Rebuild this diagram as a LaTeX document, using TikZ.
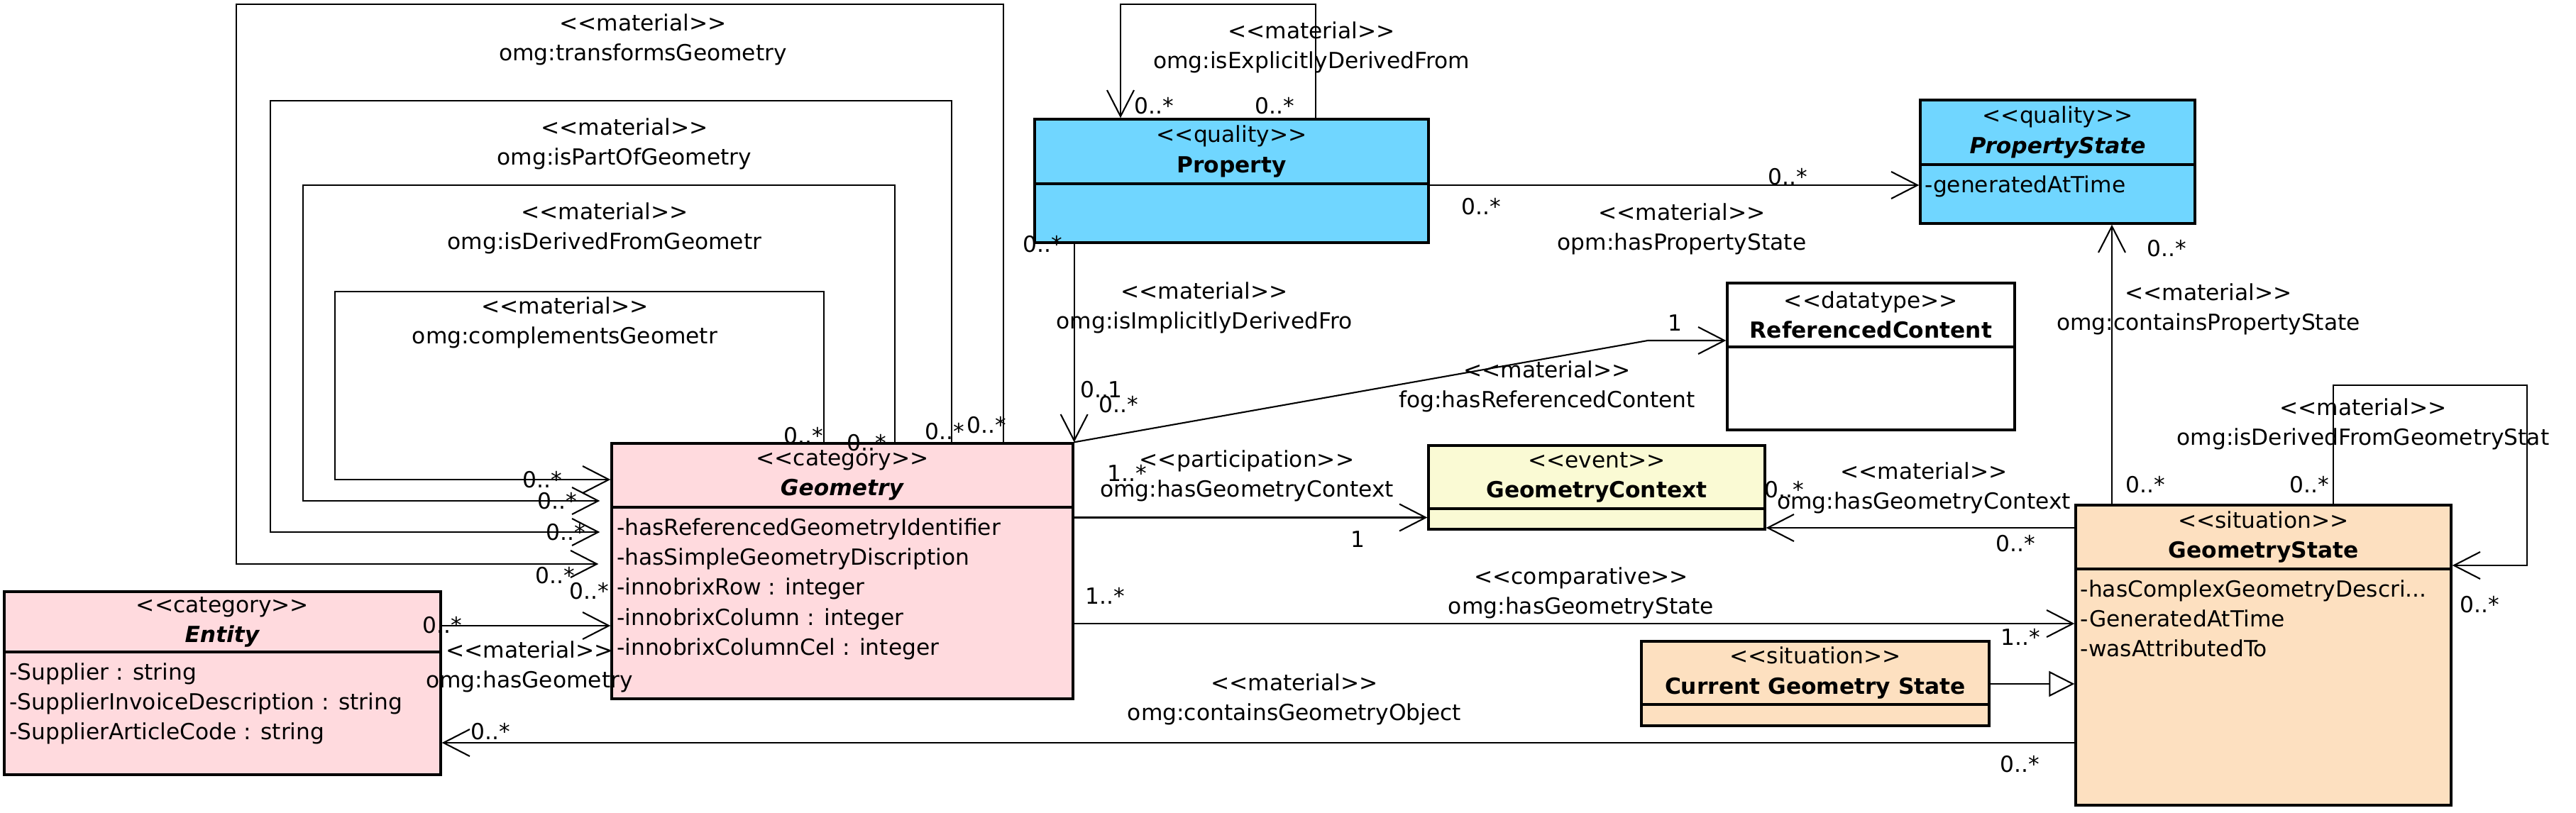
\documentclass[tikz,border=0pt]{standalone}
\usepackage{fontspec}
\setmainfont{DejaVu Sans}[Ligatures=TeXOff]
\usetikzlibrary{arrows.meta}

\definecolor{qualityblue}{RGB}{112,214,255}
\definecolor{categorypink}{RGB}{255,218,222}
\definecolor{eventyellow}{RGB}{250,250,212}
\definecolor{situationorange}{RGB}{253,224,192}
\newcommand{\umlfont}{\fontsize{8.9pt}{12pt}\selectfont}

\begin{document}
\begin{tikzpicture}[x=1cm, y=-1cm]

	\tikzstyle{class_box}=[rectangle, draw=black, line width=0.95pt, inner sep=0pt]
	\tikzstyle{class_header}=[align=center, font=\umlfont]
	\tikzstyle{class_attributes}=[align=left, font=\umlfont, anchor=north west, inner sep=0pt]
	\tikzstyle{divider}=[line width=0.95pt]
	\tikzstyle{assoc_arrow}=[line width=0.6pt, -{Straight Barb[length=3.7mm, width=3.8mm]}]
	\tikzstyle{generalization_arrow}=[line width=0.6pt, -{Triangle[length=3.6mm, width=3.6mm, fill=white]}]
	\tikzstyle{assoc_label}=[align=center, font=\umlfont]
	\tikzstyle{multiplicity}=[font=\umlfont, inner sep=0pt]

	\useasboundingbox (0,0) rectangle (36.30,11.46);

	% classes
	\node[class_box, fill=qualityblue, minimum width=5.55cm, minimum height=1.74cm] at (17.355,2.55) (property) {};
	\node[class_header] at (17.355,2.135) (property_header) {<<quality>>\\\textbf{Property}};
	\draw[divider] (property.west |- 0,2.59) -- (property.east |- 0,2.59);

	\node[class_box, fill=qualityblue, minimum width=3.87cm, minimum height=1.74cm] at (28.995,2.28) (propstate) {};
	\node[class_header] at (28.995,1.865) (propstate_header) {<<quality>>\\\textbf{\textit{PropertyState}}};
	\draw[divider] (propstate.west |- 0,2.32) -- (propstate.east |- 0,2.32);
	\node[class_attributes] at (27.12,2.47) (propstate_attributes) {-generatedAtTime};

	\node[class_box, fill=white, minimum width=4.05cm, minimum height=2.07cm] at (26.365,5.025) (refcontent) {};
	\node[class_header] at (26.365,4.44) (refcontent_header) {<<datatype>>\\\textbf{ReferencedContent}};
	\draw[divider] (refcontent.west |- 0,4.89) -- (refcontent.east |- 0,4.89);

	\node[class_box, fill=categorypink, minimum width=6.50cm, minimum height=3.60cm] at (11.87,8.05) (geometry) {};
	\node[class_header] at (11.87,6.70) (geometry_header) {<<category>>\\\textbf{\textit{Geometry}}};
	\draw[divider] (geometry.west |- 0,7.15) -- (geometry.east |- 0,7.15);
	\node[class_attributes] at (8.685,7.30) (geometry_attributes) {-hasReferencedGeometryIdentifier\\-hasSimpleGeometryDiscription\\-innobrixRow : integer\\-innobrixColumn : integer\\-innobrixColumnCel : integer};

	\node[class_box, fill=categorypink, minimum width=6.15cm, minimum height=2.58cm] at (3.135,9.63) (entity) {};
	\node[class_header] at (3.135,8.765) (entity_header) {<<category>>\\\textbf{\textit{Entity}}};
	\draw[divider] (entity.west |- 0,9.19) -- (entity.east |- 0,9.19);
	\node[class_attributes] at (0.125,9.34) (entity_attributes) {-Supplier : string\\-SupplierInvoiceDescription : string\\-SupplierArticleCode : string};

	\node[class_box, fill=eventyellow, minimum width=4.74cm, minimum height=1.18cm] at (22.50,6.87) (geocontext) {};
	\node[class_header] at (22.50,6.725) (geocontext_header) {<<event>>\\\textbf{GeometryContext}};
	\draw[divider] (geocontext.west |- 0,7.17) -- (geocontext.east |- 0,7.17);

	\node[class_box, fill=situationorange, minimum width=5.29cm, minimum height=4.23cm] at (31.895,9.235) (geostate) {};
	\node[class_header] at (31.895,7.57) (geostate_header) {<<situation>>\\\textbf{GeometryState}};
	\draw[divider] (geostate.west |- 0,8.02) -- (geostate.east |- 0,8.02);
	\node[class_attributes] at (29.31,8.17) (geostate_attributes) {-hasComplexGeometryDescri...\\-GeneratedAtTime\\-wasAttributedTo};

	\node[class_box, fill=situationorange, minimum width=4.90cm, minimum height=1.19cm] at (25.58,9.635) (currentstate) {};
	\node[class_header] at (25.58,9.485) (currentstate_header) {<<situation>>\\\textbf{Current Geometry State}};
	\draw[divider] (currentstate.west |- 0,9.93) -- (currentstate.east |- 0,9.93);

	% bends of the connectors
	\coordinate (transforms_corner) at (3.33,0.06);
	\coordinate (part_of_corner) at (3.81,1.42);
	\coordinate (derived_corner) at (4.27,2.61);
	\coordinate (complements_corner) at (4.72,4.11);
	\coordinate (explicit_corner) at (15.79,0.06);
	\coordinate (referenced_bend) at (23.22,4.80);
	\coordinate (state_loop_corner) at (35.61,5.43);

	% self associations of Geometry
	\draw[assoc_arrow, shorten >=1.7mm] (geometry.north -| 14.14,0) |- (transforms_corner) |- (geometry.west |- 0,7.95);
	\draw[assoc_arrow, shorten >=1.5mm] (geometry.north -| 13.41,0) |- (part_of_corner) |- (geometry.west |- 0,7.50);
	\draw[assoc_arrow, shorten >=1.5mm] (geometry.north -| 12.61,0) |- (derived_corner) |- (geometry.west |- 0,7.06);
	\draw[assoc_arrow] (geometry.north -| 11.61,0) |- (complements_corner) |- (geometry.west |- 0,6.76);
	\node[assoc_label] at (9.06,0.555) (transforms_label) {<<material>>\\omg:transformsGeometry};
	\node[assoc_label] at (8.80,2.03) (part_of_label) {<<material>>\\omg:isPartOfGeometry};
	\node[assoc_label] at (8.52,3.22) (derived_label) {<<material>>\\omg:isDerivedFromGeometr};
	\node[assoc_label] at (7.96,4.55) (complements_label) {<<material>>\\omg:complementsGeometr};
	\node[multiplicity] at (13.90,5.99) (transforms_m1) {0..*};
	\node[multiplicity] at (7.82,8.11) (transforms_m2) {0..*};
	\node[multiplicity] at (13.31,6.08) (part_of_m1) {0..*};
	\node[multiplicity] at (7.97,7.50) (part_of_m2) {0..*};
	\node[multiplicity] at (12.21,6.24) (derived_m1) {0..*};
	\node[multiplicity] at (7.85,7.06) (derived_m2) {0..*};
	\node[multiplicity] at (11.32,6.14) (complements_m1) {0..*};
	\node[multiplicity] at (7.64,6.76) (complements_m2) {0..*};

	% Property
	\draw[assoc_arrow] (property.north -| 18.54,0) |- (explicit_corner) -- (property.north -| explicit_corner);
	\node[assoc_label] at (18.48,0.67) (explicit_label) {<<material>>\\omg:isExplicitlyDerivedFrom};
	\node[multiplicity] at (16.26,1.49) (explicit_m1) {0..*};
	\node[multiplicity] at (17.96,1.49) (explicit_m2) {0..*};

	\draw[assoc_arrow] (property.east |- 0,2.61) -- (propstate.west |- 0,2.61);
	\node[assoc_label] at (23.70,3.23) (has_propstate_label) {<<material>>\\opm:hasPropertyState};
	\node[multiplicity] at (25.19,2.49) (has_propstate_m1) {0..*};
	\node[multiplicity] at (20.87,2.91) (has_propstate_m2) {0..*};

	\draw[assoc_arrow] (property.south -| geometry.east) -- (geometry.north east);
	\node[assoc_label] at (16.97,4.34) (implicit_label) {<<material>>\\omg:isImplicitlyDerivedFro};
	\node[multiplicity] at (14.69,3.44) (implicit_m1) {0..*};
	\node[multiplicity] at (15.52,5.49) (implicit_m2) {0..1};

	% Geometry
	\draw[assoc_arrow] (geometry.north east) -- (referenced_bend) -- (refcontent.west |- referenced_bend);
	\node[assoc_label] at (21.80,5.45) (referenced_label) {<<material>>\\fog:hasReferencedContent};
	\node[multiplicity] at (15.76,5.70) (referenced_m1) {0..*};
	\node[multiplicity] at (23.60,4.55) (referenced_m2) {1};

	\draw[assoc_arrow] (geometry.east |- 0,7.295) -- (geocontext.west |- 0,7.295);
	\node[assoc_label] at (17.57,6.71) (participation_label) {<<participation>>\\omg:hasGeometryContext};
	\node[multiplicity] at (15.88,6.67) (participation_m1) {1..*};
	\node[multiplicity] at (19.13,7.60) (participation_m2) {1};

	\draw[assoc_arrow] (geometry.east |- 0,8.79) -- (geostate.west |- 0,8.79);
	\node[assoc_label] at (22.28,8.36) (comparative_label) {<<comparative>>\\omg:hasGeometryState};
	\node[multiplicity] at (15.57,8.40) (comparative_m1) {1..*};
	\node[multiplicity] at (28.47,8.98) (comparative_m2) {1..*};

	% Entity
	\draw[assoc_arrow] (entity.east |- 0,8.82) -- (geometry.west |- 0,8.82);
	\node[assoc_label] at (7.46,9.40) (has_geometry_label) {<<material>>\\omg:hasGeometry};
	\node[multiplicity] at (6.23,8.81) (has_geometry_m1) {0..*};
	\node[multiplicity] at (8.30,8.33) (has_geometry_m2) {0..*};

	% GeometryState
	\draw[assoc_arrow] (geostate.west |- 0,10.47) -- (entity.east |- 0,10.47);
	\node[assoc_label] at (18.24,9.86) (object_label) {<<material>>\\omg:containsGeometryObject};
	\node[multiplicity] at (6.91,10.31) (object_m1) {0..*};
	\node[multiplicity] at (28.46,10.77) (object_m2) {0..*};

	\draw[assoc_arrow] (geostate.west |- 0,7.44) -- (geocontext.east |- 0,7.44);
	\node[assoc_label] at (27.11,6.88) (context_label) {<<material>>\\omg:hasGeometryContext};
	\node[multiplicity] at (25.14,6.90) (context_m1) {0..*};
	\node[multiplicity] at (28.40,7.66) (context_m2) {0..*};

	\draw[assoc_arrow] (geostate.north -| 29.76,0) -- (propstate.south -| 29.76,0);
	\node[assoc_label] at (31.12,4.36) (contains_propstate_label) {<<material>>\\omg:containsPropertyState};
	\node[multiplicity] at (30.53,3.50) (contains_propstate_m1) {0..*};
	\node[multiplicity] at (30.23,6.83) (contains_propstate_m2) {0..*};

	\draw[assoc_arrow] (geostate.north -| 32.88,0) |- (state_loop_corner) |- (geostate.east |- 0,7.97);
	\node[assoc_label] at (33.30,5.98) (state_loop_label) {<<material>>\\omg:isDerivedFromGeometryStat};
	\node[multiplicity] at (32.54,6.83) (state_loop_m1) {0..*};
	\node[multiplicity] at (34.94,8.52) (state_loop_m2) {0..*};

	\draw[generalization_arrow] (currentstate.east |- 0,9.64) -- (geostate.west |- 0,9.64);
\end{tikzpicture}
\end{document}
